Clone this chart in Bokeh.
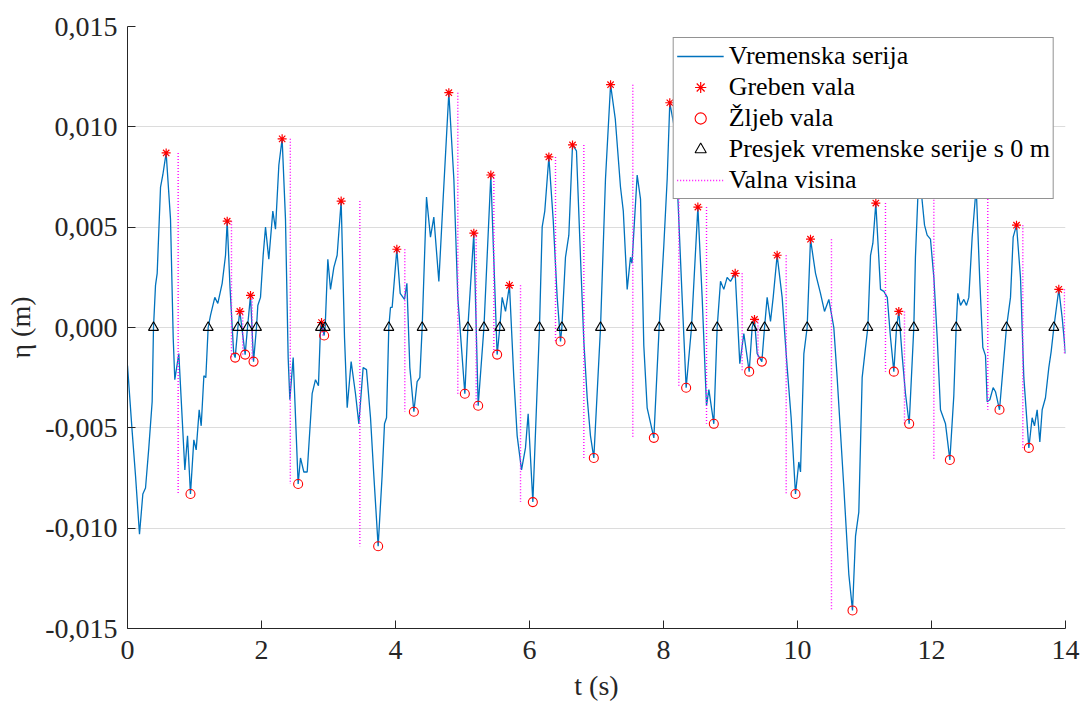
from bokeh.plotting import figure
from bokeh.models import Range1d, FixedTicker, CustomJSTickFormatter, Legend
from bokeh.embed import file_html
from bokeh.resources import INLINE

# ---- time series (s, m) ----
t = [0.000, 0.07, 0.12, 0.179, 0.229, 0.269, 0.318, 0.368, 0.388, 0.418, 0.443, 0.493, 0.527, 0.577,
     0.642, 0.682, 0.706, 0.766, 0.856, 0.896, 0.940, 0.99, 1.025, 1.07, 1.10, 1.14, 1.169, 1.204,
     1.239, 1.303, 1.348, 1.413, 1.463, 1.488, 1.53, 1.585, 1.607, 1.647, 1.677, 1.756, 1.791, 1.836,
     1.881, 1.925, 1.945, 1.985, 2.025, 2.06, 2.109, 2.169, 2.209, 2.259, 2.308, 2.358, 2.398, 2.423,
     2.473, 2.547, 2.582, 2.632, 2.682, 2.756, 2.806, 2.85, 2.881, 2.896, 2.935, 2.95, 2.99, 3.03,
     3.08, 3.129, 3.189, 3.239, 3.279, 3.338, 3.403, 3.453, 3.517, 3.567, 3.627, 3.677, 3.741, 3.80,
     3.836, 3.866, 3.900, 3.925, 3.95, 4.02, 4.07, 4.134, 4.17, 4.214, 4.274, 4.323, 4.363, 4.398,
     4.433, 4.463, 4.522, 4.572, 4.647, 4.711, 4.796, 4.871, 4.93, 5.035, 5.08, 5.169, 5.234, 5.32,
     5.423, 5.517, 5.557, 5.592, 5.642, 5.701, 5.766, 5.816, 5.881, 5.94, 5.98, 6.05, 6.149, 6.189,
     6.228, 6.289, 6.353, 6.413, 6.463, 6.483, 6.537, 6.587, 6.642, 6.701, 6.761, 6.811, 6.861, 6.91,
     6.96, 7.06, 7.134, 7.21, 7.28, 7.358, 7.40, 7.458, 7.507, 7.53, 7.607, 7.657, 7.706, 7.756,
     7.796, 7.856, 7.935, 8.005, 8.055, 8.094, 8.16, 8.21, 8.278, 8.338, 8.418, 8.513, 8.577, 8.642,
     8.677, 8.751, 8.801, 8.851, 8.90, 8.95, 9.00, 9.07, 9.139, 9.199, 9.279, 9.323, 9.358, 9.398,
     9.468, 9.508, 9.547, 9.597, 9.637, 9.696, 9.771, 9.846, 9.905, 9.97, 10.02, 10.045, 10.095,
     10.144, 10.194, 10.269, 10.343, 10.403, 10.468, 10.542, 10.592, 10.692, 10.766, 10.821, 10.866,
     10.915, 10.965, 11.015, 11.05, 11.09, 11.125, 11.169, 11.239, 11.289, 11.34, 11.388, 11.438,
     11.478, 11.512, 11.562, 11.612, 11.667, 11.736, 11.76, 11.80, 11.823, 11.846, 11.896, 11.935,
     11.985, 12.035, 12.085, 12.134, 12.209, 12.274, 12.333, 12.368, 12.393, 12.433, 12.483, 12.522,
     12.557, 12.607, 12.667, 12.721, 12.766, 12.806, 12.831, 12.871, 12.92, 12.955, 13.015, 13.119,
     13.179, 13.219, 13.269, 13.328, 13.378, 13.453, 13.502, 13.537, 13.577, 13.617, 13.652, 13.701,
     13.751, 13.786, 13.826, 13.90, 13.95, 14.0]
eta = [-0.0019, -0.0052, -0.0074, -0.0103, -0.0083, -0.0080, -0.0060, -0.0037, 0.0, 0.0021, 0.0027, 0.0070, 0.0076, 0.0087,
       0.0054, -0.0005, -0.0026, -0.0013, -0.0071, -0.0054, -0.0083, -0.0056, -0.0061, -0.0041, -0.0049, -0.0024, -0.0025, 0.0,
       0.0006, 0.0015, 0.0012, 0.0022, 0.0036, 0.0053, 0.0020, -0.0013, -0.0015, 0.0, 0.0008, -0.00135, 0.0, 0.0016,
       -0.0017, 0.0, 0.0011, 0.0015, 0.0036, 0.0050, 0.0034, 0.0058, 0.0049, 0.0081, 0.0094, 0.0054, -0.0015, -0.0036,
       -0.0015, -0.0078, -0.0065, -0.0072, -0.0072, -0.0033, -0.0026, -0.0029, 0.0, 0.00025, -0.0004, 0.0, 0.0034, 0.0019,
       0.0030, 0.0036, 0.0063, -0.0005, -0.0040, -0.0017, -0.0033, -0.0048, -0.0020, -0.0021, -0.0045, -0.0074, -0.0109, -0.0074,
       -0.0048, -0.0045, 0.0, 0.0010, 0.0010, 0.0039, 0.0017, 0.0014, 0.0022, -0.0020, -0.0042, -0.0027, -0.0025, 0.0,
       0.0035, 0.0065, 0.0045, 0.0055, 0.0023, 0.0064, 0.0117, 0.0074, 0.0015, -0.0033, 0.0, 0.0047, -0.0039, 0.0,
       0.0076, -0.00135, 0.0, 0.0015, 0.0008, 0.0021, -0.0025, -0.0054, -0.0071, -0.0060, -0.0043, -0.0087, 0.0, 0.0050,
       0.0058, 0.0085, 0.0054, 0.0015, -0.0007, 0.0, 0.0035, 0.0046, 0.0091, 0.0088, 0.0035, -0.0007, -0.0035, -0.0054,
       -0.0065, 0.0, 0.0074, 0.0121, 0.0104, 0.0070, 0.0058, 0.0019, 0.0035, 0.0032, 0.0076, 0.0064, -0.0009, -0.0040,
       -0.0046, -0.0055, 0.0, 0.0041, 0.0074, 0.0112, 0.0100, 0.0068, 0.0015, -0.0030, 0.0, 0.0060, 0.0015, -0.0039,
       -0.0031, -0.0048, 0.0, 0.0023, 0.0019, 0.0025, 0.0023, 0.0027, -0.0018, -0.0003, -0.0022, 0.0, 0.0004, -0.0013,
       -0.0017, 0.0, 0.0015, 0.0003, 0.0015, 0.0036, 0.0015, -0.0020, -0.0045, -0.0083, -0.0067, -0.0072, -0.0013,
       0.0, 0.0044, 0.0027, 0.0017, 0.0008, 0.0014, 0.0000, -0.0025, -0.0080, -0.0123, -0.0141, -0.0104,
       -0.0092, -0.0025, -0.0010, 0.0, 0.0036, 0.0042, 0.0062, 0.0019, 0.0018, 0.0015, -0.0005, -0.0022,
       0.0, 0.0008, -0.0014, -0.0033, -0.0048, 0.0, 0.0035, 0.0068, 0.0095, 0.0068, 0.0051, 0.0046,
       0.0044, 0.0025, -0.0005, -0.0041, -0.0048, -0.0066, -0.0034, 0.0, 0.0017, 0.0011, 0.0014, 0.0011,
       0.0015, 0.0045, 0.0070, 0.0023, -0.0010, -0.0014, -0.0037, -0.0036, -0.0030, -0.0032, -0.0041, 0.0,
       0.0015, 0.0045, 0.0051, 0.0025, -0.0025, -0.0060, -0.0045, -0.0049, -0.0041, -0.0057, -0.0041, -0.0035,
       -0.0020, -0.0012, 0.0, 0.0019, 0.0005, -0.0013]

# ---- wave crests ----
crest_t = [0.577, 1.488, 1.677, 1.836, 2.308, 2.896, 3.189, 4.02, 4.796, 5.169, 5.423, 5.701, 6.289, 6.642,
           7.21, 8.094, 8.513, 9.07, 9.358, 9.696, 10.194, 11.169, 11.512, 11.823, 12.667, 13.269, 13.90]
crest_eta = [0.0087, 0.0053, 0.0008, 0.0016, 0.0094, 0.00025, 0.0063, 0.0039, 0.0117, 0.0047, 0.0076, 0.0021, 0.0085, 0.0091,
             0.0121, 0.0112, 0.0060, 0.0027, 0.0004, 0.0036, 0.0044, 0.0062, 0.0008, 0.0095, 0.0070, 0.0051, 0.0019]

# ---- wave troughs ----
trough_t = [0.940, 1.607, 1.756, 1.881, 2.547, 2.935, 3.741, 4.274, 5.035, 5.234, 5.517, 6.05, 6.463, 6.96,
            7.856, 8.338, 8.751, 9.279, 9.468, 9.97, 10.821, 11.438, 11.667, 12.274, 13.015, 13.453]
trough_eta = [-0.0083, -0.0015, -0.00135, -0.0017, -0.0078, -0.0004, -0.0109, -0.0042, -0.0033, -0.0039, -0.00135, -0.0087, -0.0007, -0.0065,
              -0.0055, -0.0030, -0.0048, -0.0022, -0.0017, -0.0083, -0.0141, -0.0022, -0.0048, -0.0066, -0.0041, -0.0060]

# ---- zero up-crossings ----
cross_t = [0.388, 1.204, 1.647, 1.791, 1.925, 2.881, 2.95, 3.90, 4.398, 5.08, 5.32, 5.557, 6.149, 6.483,
           7.06, 7.935, 8.418, 8.801, 9.323, 9.508, 10.144, 11.05, 11.478, 11.736, 12.368, 13.119, 13.826]
cross_eta = [0.0] * len(cross_t)

# ---- wave heights (dotted lines from crest to following trough) ----
wave_t = [0.756, 1.552, 1.72, 1.86, 2.43, 2.915, 3.468, 4.139, 4.93, 5.204, 5.468, 5.866, 6.388, 6.811,
          7.542, 8.229, 8.642, 9.174, 9.41, 9.831, 10.507, 11.313, 11.597, 12.035, 12.84, 13.363, 13.985]
wave_top = crest_eta
wave_bottom = trough_eta + [eta[-1]]

y_ticks = [-0.015, -0.010, -0.005, 0.0, 0.005, 0.010, 0.015]
x_ticks = [0, 2, 4, 6, 8, 10, 12, 14]

SERIF = "'Liberation Serif'"

p = figure(width=1083, height=708, output_backend="svg", toolbar_location=None,
           x_range=Range1d(0, 14), y_range=Range1d(-0.015, 0.015),
           min_border_left=127, min_border_right=18, min_border_top=26, min_border_bottom=80)
p.outline_line_color = None
p.background_fill_color = "white"

r_series = p.line(t, eta, line_color="#0072BD", line_width=1.3)
r_wave = p.segment(x0=wave_t, y0=wave_top, x1=wave_t, y1=wave_bottom,
                   line_color="#FF00FF", line_width=1.4, line_dash="1 2")
r_crest = p.scatter(crest_t, crest_eta, marker="asterisk", size=9, line_color="#FF0000", line_width=1.2)
r_trough = p.scatter(trough_t, trough_eta, marker="circle", size=9, fill_color=None,
                     line_color="#FF0000", line_width=1.1)
r_cross = p.scatter(cross_t, cross_eta, marker="triangle", size=10, fill_color=None,
                    line_color="#000000", line_width=1.1)

for ax in (p.xaxis[0], p.yaxis[0]):
    ax.axis_line_color = "#262626"
    ax.major_tick_line_color = "#262626"
    ax.major_tick_in = 8
    ax.major_tick_out = 0
    ax.minor_tick_line_color = None
    ax.major_label_text_font = SERIF
    ax.major_label_text_font_size = "28px"
    ax.major_label_text_color = "#262626"
    ax.axis_label_text_font = SERIF
    ax.axis_label_text_font_size = "28px"
    ax.axis_label_text_font_style = "normal"
    ax.axis_label_text_color = "#262626"

p.xaxis.ticker = FixedTicker(ticks=x_ticks)
p.yaxis.ticker = FixedTicker(ticks=y_ticks)
p.yaxis.formatter = CustomJSTickFormatter(code="return tick.toFixed(3).replace('.', ',');")
p.xaxis.axis_label = "t (s)"
p.yaxis.axis_label = "η (m)"
p.xaxis.major_label_standoff = 12
p.yaxis.major_label_standoff = 10
p.xaxis.axis_label_standoff = 8
p.yaxis.axis_label_standoff = 6

p.xgrid.grid_line_color = None
p.ygrid.grid_line_color = "#dcdcdc"
p.ygrid.grid_line_width = 1

legend = Legend(items=[("Vremenska serija", [r_series]),
                       ("Greben vala", [r_crest]),
                       ("Žljeb vala", [r_trough]),
                       ("Presjek vremenske serije s 0 m", [r_cross]),
                       ("Valna visina", [r_wave])],
                location="top_right")
legend.margin = 11
legend.padding = 3
legend.spacing = 1
legend.label_height = 28
legend.glyph_height = 28
legend.glyph_width = 47
legend.label_standoff = 5
legend.label_text_font = SERIF
legend.label_text_font_size = "26px"
legend.label_text_color = "#000000"
legend.border_line_color = "#262626"
legend.border_line_width = 1
legend.background_fill_color = "white"
legend.background_fill_alpha = 1.0
p.add_layout(legend)

open("out.html", "w").write(file_html(p, INLINE))
